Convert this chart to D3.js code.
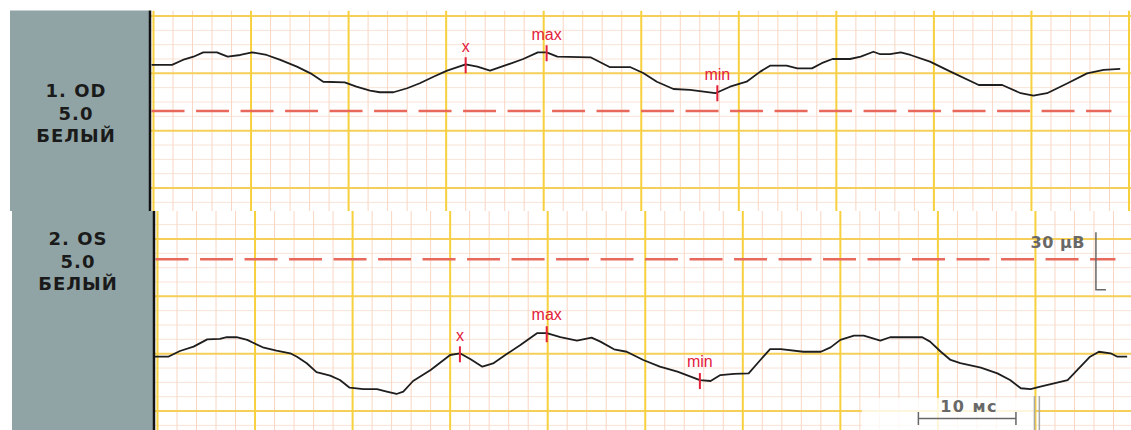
<!DOCTYPE html>
<html>
<head>
<meta charset="utf-8">
<script src="https://cdnjs.cloudflare.com/ajax/libs/d3/7.8.5/d3.min.js"></script>
<style>
    body { margin: 0; background: #ffffff; }
    svg { display: block; }
</style>
</head>
<body>
<svg id="erg" width="1131" height="430"></svg>
<script>
/*
Two-channel ERG trace on chart paper
*/

// OD channel: time (ms) and amplitude (µV)
const odTime = [-0.2, 1.9, 3.0, 4.1, 5.1, 6.5, 7.6, 8.9, 10.1, 11.6, 13.0, 14.7, 16.1, 17.4, 19.6, 20.8, 22.2, 23.2, 24.6, 26.0,
    27.3, 28.7, 30.1, 32.0, 33.2, 34.5, 36.2, 37.9, 39.4, 40.3, 41.4, 44.8, 46.8, 48.9, 50.2, 51.6, 53.3, 55.0, 57.6, 59.1,
    60.2, 60.8, 62.2, 63.2, 64.9, 66.0, 67.5, 68.5, 69.6, 71.4, 72.5, 73.8, 74.5, 75.5, 76.6, 77.6, 79.6, 81.7, 84.6, 87.0,
    88.9, 90.2, 91.6, 93.7, 95.7, 97.4, 99.1];
const odAmp = [64.4, 64.4, 67.0, 68.7, 71.0, 71.0, 68.7, 69.6, 71.0, 69.6, 67.0, 63.5, 60.0, 55.6, 55.3, 53.0, 50.9, 50.1, 50.1, 52.2,
    54.8, 58.2, 61.4, 64.7, 63.5, 61.4, 64.4, 67.5, 71.0, 71.0, 68.7, 68.4, 63.2, 63.2, 60.2, 55.6, 51.8, 51.3, 49.6, 53.0,
    54.8, 55.6, 60.9, 64.0, 64.0, 62.6, 62.6, 65.3, 67.5, 67.5, 68.7, 71.3, 70.0, 70.0, 71.0, 69.6, 66.1, 60.9, 53.9, 53.9,
    49.6, 48.3, 49.6, 54.8, 60.0, 61.8, 62.3];

// OS channel: time (ms) and amplitude (µV)
const osTime = [-0.3, 1.1, 2.3, 3.7, 5.1, 6.4, 7.1, 8.1, 9.2, 9.8, 10.9, 12.2, 13.6, 14.3, 15.3, 16.3, 17.7, 18.7, 19.7, 21.1,
    22.5, 23.5, 24.5, 25.2, 26.2, 28.0, 30.0, 31.0, 32.1, 33.3, 34.4, 35.8, 37.2, 38.9, 39.9, 41.3, 43.0, 44.5, 45.4, 46.8,
    48.1, 49.8, 51.5, 53.3, 55.6, 56.7, 57.7, 59.1, 60.6, 61.8, 62.8, 63.9, 66.2, 68.0, 69.0, 70.0, 71.4, 72.4, 74.1, 75.1,
    78.4, 79.2, 80.3, 81.3, 82.3, 84.4, 86.1, 87.4, 88.5, 89.5, 90.5, 91.9, 93.3, 94.3, 95.6, 96.5, 97.7, 98.4, 99.4];
const osAmp = [28.4, 28.4, 31.4, 33.7, 37.5, 37.7, 38.6, 38.6, 37.2, 35.7, 33.1, 31.6, 30.2, 28.4, 25.0, 20.3, 18.5, 16.2, 12.2, 11.4,
    11.4, 10.1, 8.9, 10.1, 15.7, 21.5, 29.3, 30.2, 27.1, 23.2, 24.9, 29.8, 34.5, 40.7, 40.7, 38.6, 36.8, 38.4, 36.3, 32.3,
    31.0, 26.7, 23.2, 20.6, 16.2, 15.7, 18.8, 19.4, 19.7, 26.7, 32.4, 32.4, 31.0, 31.0, 33.3, 37.2, 39.4, 39.4, 36.8, 38.6,
    38.6, 36.3, 31.0, 26.7, 25.0, 22.7, 19.7, 16.2, 11.9, 11.4, 12.7, 14.5, 16.2, 21.5, 28.4, 31.0, 30.2, 28.4, 28.4];

// Cursor markers (ms)
const markerLabels = ['x', 'max', 'min'];
const odMarkers = [32.0, 40.3, 57.8];
const osMarkers = [31.0, 39.9, 55.6];

// Dashed reference level of each channel (µV)
const odBaseline = 40.3;
const osBaseline = 79.4;

// Channel captions
const odCaption = ['1. OD', '5.0', 'БЕЛЫЙ'];
const osCaption = ['2. OS', '5.0', 'БЕЛЫЙ'];

// Paper divisions
const msMinor = 2, msMajor = 10;
const uvMinor = 7.5, uvMajor = 30;

// Panel layout (pixels)
const panels = [
    { time: odTime, amp: odAmp, markers: odMarkers, baseline: odBaseline, caption: odCaption,
      top: 10.5, bottom: 211, boxLeft: 10, axisX: 150, x0: 153.5, yZero: 188, capX: 76, capY: 97 },
    { time: osTime, amp: osAmp, markers: osMarkers, baseline: osBaseline, caption: osCaption,
      top: 211, bottom: 430, boxLeft: 12, axisX: 154, x0: 157.5, yZero: 411, capX: 78, capY: 245 }
];

const svg = d3.select('#erg');
const W = 1131;

panels.forEach(drawPanel);
drawScales();

// Function to draw one channel with its paper grid
function drawPanel(p, i){

    const x = d3.scaleLinear().domain([0, 100]).range([p.x0, p.x0 + 975.5]);
    const y = d3.scaleLinear().domain([0, 90]).range([p.yZero, p.yZero - 172]);

    const clipId = `clip${i}`;
    svg.append('clipPath').attr('id', clipId)
        .append('rect')
        .attr('x', p.axisX)
        .attr('y', p.top)
        .attr('width', W - p.axisX)
        .attr('height', p.bottom - p.top);

    const g = svg.append('g').attr('clip-path', `url(#${clipId})`);

    // Minor grid
    const uvLo = y.invert(p.bottom), uvHi = y.invert(p.top);
    const vMinor = d3.range(0, 100.01, msMinor).filter(d => d % msMajor !== 0);
    const hMinor = d3.range(Math.ceil(uvLo / uvMinor) * uvMinor, uvHi, uvMinor).filter(d => d % uvMajor !== 0);

    g.selectAll('.hmin').data(hMinor).enter().append('line')
        .attr('x1', p.axisX).attr('x2', W)
        .attr('y1', d => y(d)).attr('y2', d => y(d))
        .attr('stroke', '#f8e3d6')
        .attr('stroke-width', 1);

    g.selectAll('.vmin').data(vMinor).enter().append('line')
        .attr('x1', d => x(d)).attr('x2', d => x(d))
        .attr('y1', p.top).attr('y2', p.bottom)
        .attr('stroke', '#f9d6c3')
        .attr('stroke-width', 1);

    // Major grid
    const vMajor = d3.range(0, 100.01, msMajor);
    const hMajor = d3.range(Math.ceil(uvLo / uvMajor) * uvMajor, uvHi, uvMajor);

    g.selectAll('.hmaj').data(hMajor).enter().append('line')
        .attr('x1', p.axisX).attr('x2', W)
        .attr('y1', d => y(d)).attr('y2', d => y(d))
        .attr('stroke', '#f5cf5a')
        .attr('stroke-width', 2);

    g.selectAll('.vmaj').data(vMajor).enter().append('line')
        .attr('x1', d => x(d)).attr('x2', d => x(d))
        .attr('y1', p.top).attr('y2', p.bottom)
        .attr('stroke', '#f7d03e')
        .attr('stroke-width', 2);

    // Dashed reference level
    g.append('line')
        .attr('x1', x(-0.2)).attr('x2', x(98.2))
        .attr('y1', y(p.baseline)).attr('y2', y(p.baseline))
        .attr('stroke', '#e8695c')
        .attr('stroke-width', 2.5)
        .attr('stroke-dasharray', '33,11.5');

    // Trace
    const pts = p.time.map((t, k) => [t, p.amp[k]]);
    g.append('path')
        .datum(pts)
        .attr('d', d3.line().x(d => x(d[0])).y(d => y(d[1])))
        .attr('fill', 'none')
        .attr('stroke', '#1e1e1e')
        .attr('stroke-width', 1.8)
        .attr('stroke-linejoin', 'round');

    // Markers sit on the trace
    const bis = d3.bisector(d => d[0]).left;
    function ampAt(t){
        const k = Math.max(1, bis(pts, t));
        const a = pts[k - 1], b = pts[k];
        return a[1] + (b[1] - a[1]) * (t - a[0]) / (b[0] - a[0]);
    }

    p.markers.forEach((t, k) => {
        const cx = x(t), cy = y(ampAt(t));
        g.append('line')
            .attr('x1', cx).attr('x2', cx)
            .attr('y1', cy - 7).attr('y2', cy + 9)
            .attr('stroke', '#e3203c')
            .attr('stroke-width', 2);
        g.append('text')
            .text(markerLabels[k])
            .attr('x', cx)
            .attr('y', cy - 17)
            .attr('text-anchor', 'middle')
            .attr('dominant-baseline', 'middle')
            .attr('fill', '#e3203c')
            .style('font-family', '"Liberation Sans", Arial, sans-serif')
            .style('font-size', '16px');
    });

    // Caption box and axis line
    svg.append('rect')
        .attr('x', p.boxLeft)
        .attr('y', p.top)
        .attr('width', p.axisX - p.boxLeft - 1)
        .attr('height', p.bottom - p.top)
        .attr('fill', '#91a4a5');

    svg.append('line')
        .attr('x1', p.axisX).attr('x2', p.axisX)
        .attr('y1', p.top).attr('y2', p.bottom)
        .attr('stroke', '#111111')
        .attr('stroke-width', 2.5);

    svg.selectAll(null).data(p.caption).enter().append('text')
        .text(d => d)
        .attr('x', p.capX)
        .attr('y', (d, k) => p.capY + k * 22.5)
        .attr('text-anchor', 'middle')
        .attr('fill', '#1a1a1a')
        .style('font-family', '"DejaVu Sans", sans-serif')
        .style('font-weight', 'bold')
        .style('font-size', '18px')
        .style('letter-spacing', '1px');
}

// Function to draw the amplitude and time scale bars
function drawScales(){

    const p = panels[1];
    const x = d3.scaleLinear().domain([0, 100]).range([p.x0, p.x0 + 975.5]);
    const y = d3.scaleLinear().domain([0, 90]).range([p.yZero, p.yZero - 172]);
    const grey = '#686868';

    // 30 µV bar
    const bx = x(96.2);
    svg.append('path')
        .attr('d', `M${bx},${y(93.5)} V${y(63.5)} H${bx + 10}`)
        .attr('fill', 'none')
        .attr('stroke', grey)
        .attr('stroke-width', 1.5);
    svg.append('text')
        .text(`${uvMajor} µВ`)
        .attr('x', bx - 11)
        .attr('y', y(87.5))
        .attr('text-anchor', 'end')
        .attr('dominant-baseline', 'middle')
        .attr('fill', grey)
        .style('font-family', '"DejaVu Sans", sans-serif')
        .style('font-weight', 'bold')
        .style('font-size', '16px')
        .style('letter-spacing', '0.5px');

    // Clear patch behind the time bar
    svg.append('rect')
        .attr('x', x(72.2))
        .attr('y', 398)
        .attr('width', x(89.9) - x(72.2))
        .attr('height', 32)
        .attr('fill', '#ffffff')
        .attr('opacity', 0.8);

    // 10 ms bar
    const t0 = 78.0, t1 = t0 + msMajor, by = 418.5;
    svg.append('path')
        .attr('d', `M${x(t0)},${by - 6.5} V${by + 6.5} M${x(t0)},${by} H${x(t1)} M${x(t1)},${by - 6.5} V${by + 6.5}`)
        .attr('fill', 'none')
        .attr('stroke', grey)
        .attr('stroke-width', 1.5);
    svg.append('text')
        .text(`${msMajor} мс`)
        .attr('x', (x(t0) + x(t1)) / 2 + 2)
        .attr('y', 407)
        .attr('text-anchor', 'middle')
        .attr('dominant-baseline', 'middle')
        .attr('fill', grey)
        .style('font-family', '"DejaVu Sans", sans-serif')
        .style('font-weight', 'bold')
        .style('font-size', '16px')
        .style('letter-spacing', '1.5px');

    // Cursor stub
    [x(89.9), x(90.4)].forEach(cx => {
        svg.append('line')
            .attr('x1', cx).attr('x2', cx)
            .attr('y1', 396).attr('y2', 430)
            .attr('stroke', '#a8a8a8')
            .attr('stroke-width', 1.5);
    });
}
</script>
</body>
</html>
